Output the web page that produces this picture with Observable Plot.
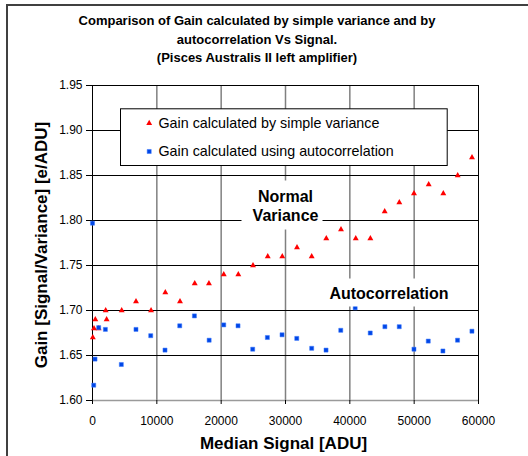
<!DOCTYPE html>
<html>
<head>
<meta charset="utf-8">
<script src="https://cdn.jsdelivr.net/npm/d3@7"></script>
<script src="https://cdn.jsdelivr.net/npm/@observablehq/plot@0.6"></script>
<style>
  html, body { margin: 0; padding: 0; background: white; }
  #wrap { position: relative; width: 528px; height: 456px; overflow: hidden; background: white;
          font-family: "Liberation Sans", Arial, sans-serif; }
  #border { position: absolute; left: 6px; top: 4px; width: 700px; height: 700px;
            border-left: 2px solid #404040; border-top: 2px solid #404040; }
  #title { position: absolute; left: 0; top: 12px; width: 514px; text-align: center;
           font-weight: bold; font-size: 13px; line-height: 18.5px; color: #000; }
  #chart { position: absolute; left: 0; top: 76px; }
</style>
</head>
<body>
<div id="wrap">
  <div id="border"></div>
  <div id="title">Comparison of Gain calculated by simple variance and by<br>autocorrelation Vs Signal.<br>(Pisces Australis II left amplifier)</div>
  <div id="chart"></div>
</div>
<script>
// ---- data ----
const varianceSignal = [50, 230, 440, 960, 2050, 2200, 4540, 6760, 9100, 11320, 13600, 15890, 18100, 20400, 22670, 24950, 27240, 29500, 31790, 34070, 36340, 38630, 40920, 43190, 45420, 47690, 49970, 52260, 54530, 56770, 58990];
const varianceGain = [1.67, 1.68, 1.69, 1.68, 1.70, 1.69, 1.70, 1.71, 1.70, 1.72, 1.71, 1.73, 1.73, 1.74, 1.74, 1.75, 1.76, 1.76, 1.77, 1.76, 1.78, 1.79, 1.78, 1.78, 1.81, 1.82, 1.83, 1.84, 1.83, 1.85, 1.87];
const autoSignal = [0, 190, 390, 960, 2000, 4480, 6760, 9050, 11270, 13560, 15840, 18130, 20400, 22620, 24900, 27180, 29460, 31750, 34070, 36300, 38590, 40830, 43170, 45450, 47680, 49970, 52190, 54470, 56740, 58980];
const autoGain = [1.797, 1.617, 1.646, 1.681, 1.679, 1.640, 1.679, 1.672, 1.656, 1.683, 1.694, 1.667, 1.684, 1.683, 1.657, 1.670, 1.673, 1.669, 1.658, 1.656, 1.678, 1.703, 1.675, 1.682, 1.682, 1.657, 1.666, 1.655, 1.667, 1.677];
const xTicks = [0, 10000, 20000, 30000, 40000, 50000, 60000];
const yTicks = [1.60, 1.65, 1.70, 1.75, 1.80, 1.85, 1.90, 1.95];
const seriesNames = ["Gain calculated by simple variance", "Gain calculated using autocorrelation"];
const xLabel = "Median Signal [ADU]";
const yLabel = "Gain [Signal/Variance] [e/ADU]";

const variance = varianceSignal.map((x, i) => ({x, y: varianceGain[i]}));
const auto = autoSignal.map((x, i) => ({x, y: autoGain[i]}));

const RED = "#ff0000";
const BLUE = "#0046e6";
const font = "'Liberation Sans', Arial, sans-serif";

const chart = Plot.plot({
  width: 528,
  height: 380,
  marginLeft: 92,
  marginRight: 50,
  marginTop: 9,
  marginBottom: 56,
  style: {fontFamily: font, fontSize: "12px", background: "transparent", color: "#000", overflow: "visible"},
  x: {domain: [0, 60000]},
  y: {domain: [1.60, 1.95]},
  marks: [
    // gridlines
    Plot.ruleX(xTicks.slice(1, -1), {stroke: "#808080", strokeWidth: 1.5}),
    Plot.ruleY(yTicks.slice(1, -1), {stroke: "#000", strokeWidth: 1}),
    Plot.frame({stroke: "#000", strokeWidth: 1}),
    Plot.ruleY([yTicks[0]], {stroke: "#9a9a9a", strokeWidth: 1.5}),
    Plot.ruleX([xTicks[0]], {stroke: "#000", strokeWidth: 1}),
    // axes
    Plot.axisY({ticks: yTicks, tickFormat: ".2f", tickSize: 6, tickPadding: 4, label: null, fontSize: 12}),
    Plot.axisX({ticks: xTicks, tickFormat: d => String(d), tickSize: 4, tickPadding: 12, label: null, fontSize: 12}),
    // data
    Plot.dot(variance, {x: "x", y: "y", symbol: "triangle", r: 2.2, fill: RED, stroke: "none"}),
    Plot.dot(auto, {x: "x", y: "y", symbol: "square", r: 2.3, fill: BLUE, stroke: "#3d7bff", strokeWidth: 0.5}),
    // annotation boxes
    Plot.frame({fill: "white", stroke: "none", insetLeft: 149, insetRight: 156, insetTop: 95, insetBottom: 171}),
    Plot.frame({fill: "white", stroke: "none", insetLeft: 233, insetRight: 26, insetTop: 193, insetBottom: 94}),
    // legend
    Plot.frame({fill: "white", stroke: "#000", strokeWidth: 1, insetLeft: 28, insetTop: 23.3, insetRight: 31.3, insetBottom: 235}),
    Plot.dot([0], {frameAnchor: "top-left", dx: 56.7, dy: 37.7, symbol: "triangle", r: 2.2, fill: RED, stroke: "none"}),
    Plot.dot([0], {frameAnchor: "top-left", dx: 56.7, dy: 66, symbol: "square", r: 2.3, fill: BLUE, stroke: "#3d7bff", strokeWidth: 0.5}),
    Plot.text([seriesNames[0]], {text: d => d, frameAnchor: "top-left", dx: 66, dy: 37.7, textAnchor: "start", lineAnchor: "middle", fontSize: 14.3}),
    Plot.text([seriesNames[1]], {text: d => d, frameAnchor: "top-left", dx: 66, dy: 66, textAnchor: "start", lineAnchor: "middle", fontSize: 14.3}),
    // annotation labels
    Plot.text(["Normal"], {text: d => d, frameAnchor: "top-left", dx: 193, dy: 111, textAnchor: "middle", lineAnchor: "middle", fontWeight: "bold", fontSize: 16}),
    Plot.text(["Variance"], {text: d => d, frameAnchor: "top-left", dx: 193, dy: 130, textAnchor: "middle", lineAnchor: "middle", fontWeight: "bold", fontSize: 16}),
    Plot.text(["Autocorrelation"], {text: d => d, frameAnchor: "top-left", dx: 296.5, dy: 208, textAnchor: "middle", lineAnchor: "middle", fontWeight: "bold", fontSize: 16}),
    // axis titles
    Plot.text([xLabel], {text: d => d, frameAnchor: "bottom", dx: -2, dy: 43, textAnchor: "middle", lineAnchor: "middle", fontWeight: "bold", fontSize: 17}),
    Plot.text([yLabel], {text: d => d, frameAnchor: "left", dx: -50.5, dy: 2, rotate: -90, textAnchor: "middle", lineAnchor: "middle", fontWeight: "bold", fontSize: 17})
  ]
});
document.getElementById("chart").appendChild(chart);
</script>
</body>
</html>
